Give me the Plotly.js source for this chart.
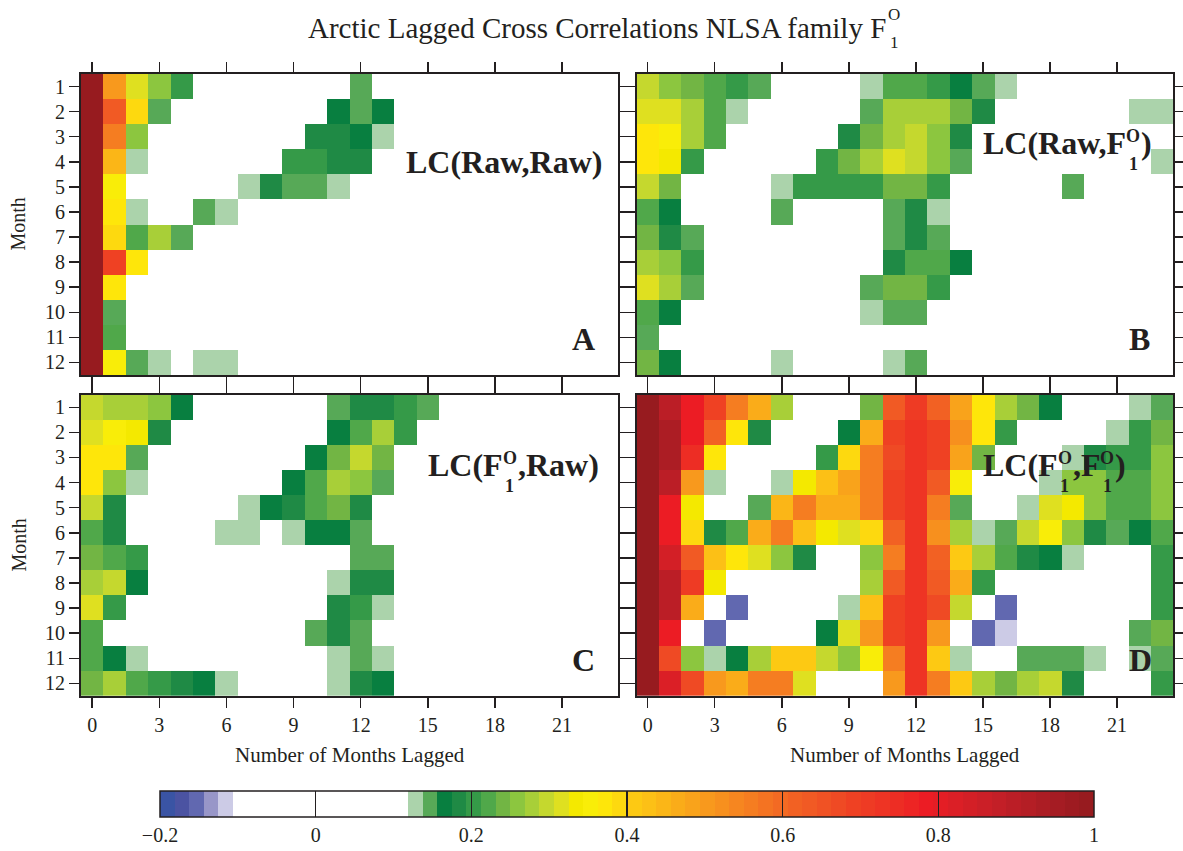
<!DOCTYPE html>
<html>
<head>
<meta charset="utf-8">
<script src="https://cdn.plot.ly/plotly-3.0.1.min.js"></script>
<style>html,body{margin:0;padding:0;background:#fff;}#chart{width:1183px;height:851px;}</style>
</head>
<body>
<div id="chart"></div>
<script>
// ---------- data ----------
const lags = [0,1,2,3,4,5,6,7,8,9,10,11,12,13,14,15,16,17,18,19,20,21,22,23];
const months = [1,2,3,4,5,6,7,8,9,10,11,12];
const lagTicks = [0,3,6,9,12,15,18,21];
const cbTickVals = [-0.2,0,0.2,0.4,0.6,0.8,1];
const cbTickText = ['\u22120.2','0','0.2','0.4','0.6','0.8','1'];

// LC(Raw,Raw)
const corrA = [
 [0.99,0.50,0.32,0.26,0.20,0,0,0,0,0,0,0,0.15,0,0,0,0,0,0,0,0,0,0,0],
 [0.99,0.63,0.39,0.15,0,0,0,0,0,0,0,0.17,0.15,0.17,0,0,0,0,0,0,0,0,0,0],
 [0.99,0.56,0.26,0,0,0,0,0,0,0,0.18,0.18,0.17,0.13,0,0,0,0,0,0,0,0,0,0],
 [0.99,0.45,0.13,0,0,0,0,0,0,0.20,0.20,0.18,0.18,0,0,0,0,0,0,0,0,0,0,0],
 [0.99,0.35,0,0,0,0,0,0.13,0.18,0.15,0.15,0.13,0,0,0,0,0,0,0,0,0,0,0,0],
 [0.99,0.37,0.13,0,0,0.15,0.13,0,0,0,0,0,0,0,0,0,0,0,0,0,0,0,0,0],
 [0.99,0.39,0.22,0.28,0.15,0,0,0,0,0,0,0,0,0,0,0,0,0,0,0,0,0,0,0],
 [0.99,0.69,0.37,0,0,0,0,0,0,0,0,0,0,0,0,0,0,0,0,0,0,0,0,0],
 [0.99,0.37,0,0,0,0,0,0,0,0,0,0,0,0,0,0,0,0,0,0,0,0,0,0],
 [0.99,0.15,0,0,0,0,0,0,0,0,0,0,0,0,0,0,0,0,0,0,0,0,0,0],
 [0.99,0.22,0,0,0,0,0,0,0,0,0,0,0,0,0,0,0,0,0,0,0,0,0,0],
 [0.99,0.35,0.15,0.13,0,0.13,0.13,0,0,0,0,0,0,0,0,0,0,0,0,0,0,0,0,0]
];
// LC(Raw,F1O)
const corrB = [
 [0.30,0.26,0.24,0.22,0.20,0.15,0,0,0,0,0.13,0.22,0.22,0.20,0.17,0.15,0.13,0,0,0,0,0,0,0],
 [0.32,0.32,0.28,0.22,0.13,0,0,0,0,0,0.15,0.28,0.28,0.28,0.24,0.18,0,0,0,0,0,0,0.13,0.13],
 [0.37,0.35,0.28,0.22,0,0,0,0,0,0.18,0.24,0.28,0.30,0.26,0.18,0,0,0,0,0,0,0,0,0],
 [0.37,0.33,0.20,0,0,0,0,0,0.20,0.24,0.28,0.32,0.30,0.26,0.15,0,0,0,0,0,0,0,0,0.13],
 [0.30,0.24,0,0,0,0,0.13,0.20,0.20,0.20,0.20,0.24,0.24,0.20,0,0,0,0,0,0.15,0,0,0,0],
 [0.22,0.17,0,0,0,0,0.15,0,0,0,0,0.15,0.18,0.13,0,0,0,0,0,0,0,0,0,0],
 [0.24,0.18,0.15,0,0,0,0,0,0,0,0,0.15,0.18,0.15,0,0,0,0,0,0,0,0,0,0],
 [0.28,0.26,0.20,0,0,0,0,0,0,0,0,0.18,0.22,0.22,0.17,0,0,0,0,0,0,0,0,0],
 [0.32,0.28,0.15,0,0,0,0,0,0,0,0.15,0.24,0.24,0.20,0,0,0,0,0,0,0,0,0,0],
 [0.22,0.17,0,0,0,0,0,0,0,0,0.13,0.15,0.15,0,0,0,0,0,0,0,0,0,0,0],
 [0.15,0,0,0,0,0,0,0,0,0,0,0,0,0,0,0,0,0,0,0,0,0,0,0],
 [0.24,0.17,0,0,0,0,0.13,0,0,0,0,0.13,0.15,0,0,0,0,0,0,0,0,0,0,0]
];
// LC(F1O,Raw)
const corrC = [
 [0.30,0.28,0.28,0.26,0.17,0,0,0,0,0,0,0.15,0.18,0.18,0.20,0.15,0,0,0,0,0,0,0,0],
 [0.32,0.35,0.33,0.18,0,0,0,0,0,0,0,0.17,0.22,0.28,0.20,0,0,0,0,0,0,0,0,0],
 [0.37,0.37,0.15,0,0,0,0,0,0,0,0.17,0.24,0.30,0.24,0,0,0,0,0,0,0,0,0,0],
 [0.37,0.26,0.13,0,0,0,0,0,0,0.17,0.22,0.28,0.26,0.15,0,0,0,0,0,0,0,0,0,0],
 [0.30,0.18,0,0,0,0,0,0.13,0.17,0.18,0.22,0.24,0.18,0,0,0,0,0,0,0,0,0,0,0],
 [0.22,0.18,0,0,0,0,0.13,0.13,0,0.13,0.17,0.17,0.15,0,0,0,0,0,0,0,0,0,0,0],
 [0.24,0.22,0.20,0,0,0,0,0,0,0,0,0,0.15,0.15,0,0,0,0,0,0,0,0,0,0],
 [0.28,0.30,0.17,0,0,0,0,0,0,0,0,0.13,0.18,0.18,0,0,0,0,0,0,0,0,0,0],
 [0.32,0.20,0,0,0,0,0,0,0,0,0,0.18,0.20,0.13,0,0,0,0,0,0,0,0,0,0],
 [0.22,0,0,0,0,0,0,0,0,0,0.15,0.18,0.15,0,0,0,0,0,0,0,0,0,0,0],
 [0.22,0.17,0.13,0,0,0,0,0,0,0,0,0.13,0.15,0.13,0,0,0,0,0,0,0,0,0,0],
 [0.24,0.28,0.22,0.20,0.18,0.17,0.13,0,0,0,0,0.13,0.18,0.17,0,0,0,0,0,0,0,0,0,0]
];
// LC(F1O,F1O)
const corrD = [
 [0.99,0.90,0.78,0.69,0.56,0.47,0.28,0,0,0,0.24,0.63,0.71,0.62,0.48,0.37,0.28,0.24,0.17,0,0,0,0.13,0.15],
 [0.99,0.93,0.78,0.62,0.37,0.18,0,0,0,0.17,0.47,0.69,0.73,0.69,0.52,0.37,0.20,0,0,0,0,0.13,0.20,0.24],
 [0.99,0.93,0.75,0.37,0,0,0,0,0.20,0.39,0.56,0.67,0.73,0.69,0.48,0.24,0,0,0,0.13,0.18,0.20,0.20,0.26],
 [0.99,0.90,0.50,0.13,0,0,0.13,0.33,0.43,0.48,0.56,0.69,0.73,0.63,0.35,0,0,0,0.13,0.26,0.26,0.22,0.22,0.26],
 [0.99,0.78,0.33,0,0,0.15,0.45,0.56,0.47,0.47,0.56,0.69,0.73,0.56,0.15,0,0,0.13,0.32,0.33,0.26,0.22,0.22,0.26],
 [0.99,0.78,0.39,0.18,0.22,0.47,0.56,0.43,0.33,0.32,0.39,0.62,0.73,0.52,0.28,0.13,0.15,0.30,0.35,0.26,0.18,0.15,0.17,0.22],
 [0.99,0.84,0.63,0.43,0.37,0.32,0.26,0.18,0,0,0.26,0.56,0.73,0.62,0.41,0.28,0.22,0.18,0.17,0.13,0,0,0,0.20],
 [0.99,0.90,0.71,0.33,0,0,0,0,0,0,0.28,0.63,0.73,0.63,0.47,0.20,0,0,0,0,0,0,0,0.20],
 [0.99,0.90,0.47,0,-0.15,0,0,0,0,0.13,0.43,0.69,0.73,0.67,0.30,0,-0.15,0,0,0,0,0,0,0.20],
 [0.99,0.78,0,-0.15,0,0,0,0,0.17,0.32,0.50,0.69,0.73,0.50,0,-0.15,-0.12,0,0,0,0,0,0.15,0.24],
 [0.99,0.67,0.26,0.13,0.17,0.28,0.41,0.41,0.30,0.26,0.35,0.56,0.73,0.41,0.13,0,0,0.15,0.15,0.15,0.13,0,0.13,0.15],
 [0.99,0.82,0.67,0.50,0.47,0.56,0.56,0.32,0,0,0,0.50,0.73,0.56,0.41,0.28,0.24,0.28,0.30,0.18,0,0,0,0.20]
];

// ---------- style ----------
const binColors = [
 '#3a54a4','#4b53a2','#6168b0','#9896c8','#cccbe6',
 '#ffffff','#ffffff','#ffffff','#ffffff','#ffffff','#ffffff','#ffffff','#ffffff','#ffffff','#ffffff','#ffffff','#ffffff',
 '#abd3ab','#57a957','#087f40','#1f8a45','#359a48','#50a84a','#72b544','#8cc63f','#a8cf38','#c5d82e','#dfe020',
 '#f4e900','#f9ed08','#fee60a','#fdd90f','#fdc913','#fcc016','#fbb617','#faac19','#f9a31b','#f8991d','#f7901e',
 '#f68620','#f57d21','#f47322','#f36a23','#f26123','#f15a24','#f05224','#ef4a24','#ef4123','#ee3b24','#ee3424',
 '#ed2d24','#ed2524','#ec1c24','#e41e25','#db1f26','#d31f26','#cb1f27','#c31f27','#bb1e26','#b41e25','#ac1d24',
 '#a51c23','#9e1b21','#971b1f'
];
const cs = [];
binColors.forEach((c,i)=>{ cs.push([i/64,c]); cs.push([(i+1)/64,c]); });

const INK = '#231f20';
const FONT = 'Liberation Serif';
const L = 81, T = 74, W = 1092, H = 622;
const px2x = p => (p - L)/W;
const py2y = p => (T + H - p)/H;

function xax(domain, anchor, labels){
  return {domain, anchor, range:[-0.5,23.5], tickmode:'array', tickvals:lagTicks,
    showticklabels:labels, ticks:'outside', ticklen:10, tickwidth:1.5, tickcolor:INK,
    showline:true, linewidth:2, linecolor:INK, mirror:'ticks', showgrid:false, zeroline:false,
    tickfont:{family:FONT,size:20,color:INK}, fixedrange:true};
}
function yax(domain, anchor, labels){
  return {domain, anchor, range:[12.5,0.5], tickmode:'array', tickvals:months,
    showticklabels:labels, ticks:'outside', ticklen:10, tickwidth:1.5, tickcolor:INK,
    showline:true, linewidth:2, linecolor:INK, mirror:'ticks', showgrid:false, zeroline:false,
    tickfont:{family:FONT,size:20,color:INK}, fixedrange:true};
}
const xL = [0, 537/W], xR = [(636.5-L)/W, 1];
const yT = [(T+H-375)/H, 1], yB = [0, (T+H-394.7)/H];

const traces = [
  {z:corrA, xaxis:'x', yaxis:'y'},
  {z:corrB, xaxis:'x2', yaxis:'y2'},
  {z:corrC, xaxis:'x3', yaxis:'y3'},
  {z:corrD, xaxis:'x4', yaxis:'y4'}
].map(t => Object.assign({type:'heatmap', x:lags, y:months, coloraxis:'coloraxis', hoverinfo:'skip'}, t));

// ---------- text labels with stacked super/subscripts ----------
const cv = document.createElement('canvas').getContext('2d');
function measure(text, size, weight){ cv.font = weight+' '+size+'px "'+FONT+'"'; return cv.measureText(text).width; }
function ann(text, px, base, size, weight, anchor){
  return {text, xref:'paper', yref:'paper', x:px2x(px), y:py2y(base - 0.3375*size),
    xanchor:anchor||'left', yanchor:'middle', showarrow:false, borderpad:0,
    font:{family:FONT, size, color:INK, weight}};
}
function label(parts, left, base, big, small, weight, up, down, out){
  let x = left;
  parts.forEach(p => {
    if (typeof p === 'string'){ out.push(ann(p, x, base, big, weight)); x += measure(p, big, weight); }
    else {
      const w0 = measure(p[0], small, weight), w1 = measure(p[1], small, weight), w = Math.max(w0,w1);
      out.push(ann(p[0], x + (w-w0)/2, base - up, small, weight));
      out.push(ann(p[1], x + (w-w1)/2, base + down, small, weight));
      x += w + 1;
    }
  });
}
const anns = [];
label(['Arctic Lagged Cross Correlations NLSA family F', ['O','1']], 307, 38, 29, 17, 'normal', 18, 10, anns);
label(['LC(Raw,Raw)'], 405, 173, 32, 18, 'bold', 12, 16, anns);
label(['LC(Raw,F', ['O','1'], ')'], 982, 154, 32, 18, 'bold', 12, 16, anns);
label(['LC(F', ['O','1'], ',Raw)'], 427, 476, 32, 18, 'bold', 12, 16, anns);
label(['LC(F', ['O','1'], ',F', ['O','1'], ')'], 982, 476, 32, 18, 'bold', 12, 16, anns);
anns.push(ann('A', 596, 350, 32, 'bold', 'right'));
anns.push(ann('B', 1151, 350, 32, 'bold', 'right'));
anns.push(ann('C', 596, 671, 32, 'bold', 'right'));
anns.push(ann('D', 1153, 671, 32, 'bold', 'right'));
// axis titles
[224.5, 545.5].forEach(cy => anns.push({text:'Month', xref:'paper', yref:'paper', x:px2x(18), y:py2y(cy),
  xanchor:'center', yanchor:'middle', textangle:-90, showarrow:false, font:{family:FONT,size:20,color:INK}}));
[349.5, 904.8].forEach(cx => anns.push({text:'Number of Months Lagged', xref:'paper', yref:'paper', x:px2x(cx), y:py2y(755),
  xanchor:'center', yanchor:'middle', showarrow:false, font:{family:FONT,size:21,color:INK}}));

const layout = {
  width:1183, height:851,
  margin:{l:L, r:1183-L-W, t:T, b:851-T-H, autoexpand:false},
  paper_bgcolor:'#ffffff', plot_bgcolor:'#ffffff',
  showlegend:false,
  xaxis:xax(xL,'y',false), yaxis:yax(yT,'x',true),
  xaxis2:xax(xR,'y2',false), yaxis2:yax(yT,'x2',false),
  xaxis3:xax(xL,'y3',true), yaxis3:yax(yB,'x3',true),
  xaxis4:xax(xR,'y4',true), yaxis4:yax(yB,'x4',false),
  coloraxis:{colorscale:cs, cmin:-0.2, cmax:1,
    colorbar:{orientation:'h', lenmode:'pixels', len:934, thickness:26,
      x:px2x(627), xanchor:'center', y:py2y(791), yanchor:'top', xpad:0, ypad:0,
      outlinewidth:1.5, outlinecolor:INK, tickmode:'array', tickvals:cbTickVals, ticktext:cbTickText,
      ticks:'inside', ticklen:26, tickwidth:1.5, tickcolor:INK,
      tickfont:{family:FONT,size:20,color:INK}}},
  annotations:anns
};
Plotly.newPlot('chart', traces, layout, {displayModeBar:false, staticPlot:true});
</script>
</body>
</html>
